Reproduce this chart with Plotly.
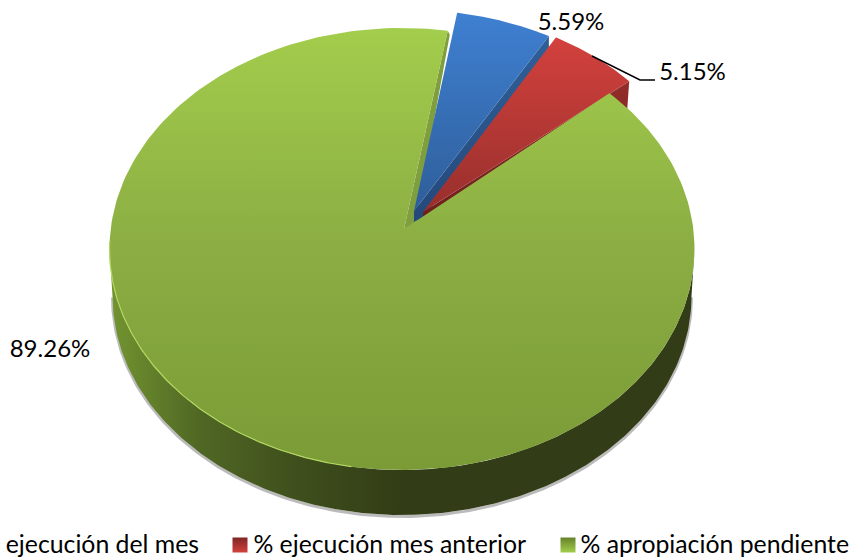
import numpy as np
import plotly.graph_objects as go

categories = ["% ejecución del mes", "% ejecución mes anterior", "% apropiación pendiente"]
shares = [5.59, 5.15, 89.26]
legend_labels = ["ejecución del mes", "% ejecución mes anterior", "% apropiación pendiente"]

# drawing style / projection of the tilted pie (pixels of the 854x559 canvas)
W, H = 854, 559
START = 9.0
RX, RY = 292.5, 221.0
ELLIPSE_CENTRES = [(411, 231), (413, 230), (402, 249)]
APEXES = [(414, 211), (423, 212), (404, 229)]
GREEN_TRIM = 2.5
BLUE_TRIM = 1.0
FONT = "Lato"
FS = 24
LEGEND_FS = 24.8


def arc(c, a0, a1, rx=RX, ry=RY, n=240):
    t = np.radians(np.linspace(a0, a1, n))
    return c[0] + rx * np.sin(t), c[1] - ry * np.cos(t)


def grad(kind, stops):
    # stops are given top-to-bottom / left-to-right in picture space
    if kind == "vertical":
        stops = [[1 - p, col] for p, col in reversed(stops)]
    return dict(type=kind, colorscale=stops)


def poly(fig, x, y, fill=None, gradient=None):
    kw = dict(fillgradient=gradient) if gradient else dict(fillcolor=fill)
    fig.add_trace(go.Scatter(x=list(x), y=list(y), mode="lines", fill="toself",
                             line=dict(width=0, color="rgba(0,0,0,0)"),
                             hoverinfo="skip", showlegend=False, **kw))


def sector(fig, c, apex, a0, a1, stops):
    ax, ay = arc(c, a0, a1)
    poly(fig, np.r_[apex[0], ax, apex[0]], np.r_[apex[1], ay, apex[1]],
         gradient=grad("vertical", stops))
    return ax, ay


edges = START + np.cumsum([0] + [s * 3.6 for s in shares])
fig = go.Figure()

# green cut face
gc, ga = ELLIPSE_CENTRES[2], APEXES[2]
ex, ey = arc(gc, edges[3], edges[3], n=1)
poly(fig, [ex[0], ex[0] + 2, ga[0] + 11, ga[0], ex[0]],
     [ey[0], ey[0] + 4, ga[1] - 5, ga[1], ey[0]], fill="#7F9E3E")

# blue slice: side face, then top
bc, ba = ELLIPSE_CENTRES[0], APEXES[0]
ex, ey = arc(bc, edges[1] - BLUE_TRIM, edges[1] - BLUE_TRIM, n=1)
poly(fig, [ex[0], ex[0], ba[0] + 9, ba[0], ba[0], ex[0]],
     [ey[0], ey[0] + 15, ba[1] + 7, ba[1] + 11, ba[1], ey[0]],
     gradient=grad("vertical", [[0, "#2F6099"], [1, "#24487A"]]))
sector(fig, bc, ba, edges[0], edges[1] - BLUE_TRIM, [[0, "#3F80D2"], [1, "#2E5E99"]])

# red slice: side face, then top
rc, ra = ELLIPSE_CENTRES[1], APEXES[1]
ex, ey = arc(rc, edges[2], edges[2], n=1)
poly(fig, [ex[0], ex[0] - 2, ra[0], ra[0], ex[0]],
     [ey[0], ey[0] + 28, ra[1] + 6, ra[1], ey[0]],
     gradient=grad("vertical", [[0, "#922D2A"], [1, "#6E1F1D"]]))
sector(fig, rc, ra, edges[1], edges[2], [[0, "#D3413D"], [1, "#972F2C"]])

# green wall with soft shadow
bottom_c = (gc[0], gc[1] + 47)
bx, by = arc(bottom_c, 90, 270, rx=RX - 3, ry=RY - 2)
fig.add_trace(go.Scatter(x=bx, y=by + 1.5, mode="lines",
                         line=dict(color="rgba(60,60,60,0.35)", width=3),
                         hoverinfo="skip", showlegend=False))
tx, ty = arc(gc, 90, 270)
poly(fig, np.r_[tx, bx[::-1]], np.r_[ty, by[::-1]],
     gradient=grad("horizontal", [[0, "#739530"], [0.15, "#506824"], [0.32, "#3F4F1C"],
                                  [0.5, "#323C16"], [1, "#323C16"]]))

# green top
sector(fig, gc, ga, edges[2] - GREEN_TRIM, edges[3],
       [[0, "#A3CD4C"], [0.5, "#8BAD43"], [1, "#7A9B36"]])

# light rim on the lower-left edge
lx, ly = arc(gc, 190, 272)
fig.add_trace(go.Scatter(x=lx, y=ly, mode="lines", line=dict(color="#B2D860", width=1.2),
                         hoverinfo="skip", showlegend=False))

# leader line of the red label
fig.add_trace(go.Scatter(x=[592, 640, 655], y=[56, 80, 80], mode="lines",
                         line=dict(color="black", width=1.5),
                         hoverinfo="skip", showlegend=False))

# data labels
label_x = [571, 692.5, 50]
label_y = [24, 74, 351]
fig.add_trace(go.Scatter(x=label_x, y=label_y, mode="text",
                         text=[f"{s:.2f}%" for s in shares],
                         textposition="middle center",
                         textfont=dict(family=FONT, size=FS, color="black"),
                         hoverinfo="skip", showlegend=False))

# legend
legend_x = [199, 526, 849]
legend_y = [547, 547, 547]
fig.add_trace(go.Scatter(x=legend_x, y=legend_y, mode="text", text=legend_labels,
                         textposition="middle left",
                         textfont=dict(family=FONT, size=LEGEND_FS, color="black"),
                         hoverinfo="skip", showlegend=False))
key_x = [240, 568]
key_y = [545, 545]
fig.add_trace(go.Scatter(x=key_x, y=key_y, mode="markers",
                         marker=dict(symbol="square", size=15, color=["#7E2624", "#66822A"],
                                     gradient=dict(type="vertical", color=["#D3413D", "#A3CD4C"])),
                         hoverinfo="skip", showlegend=False))

fig.update_xaxes(range=[0, W], visible=False, fixedrange=True)
fig.update_yaxes(range=[H, 0], visible=False, fixedrange=True)
fig.update_layout(width=W, height=H, autosize=False, margin=dict(l=0, r=0, t=0, b=0),
                  paper_bgcolor="white", plot_bgcolor="white", showlegend=False)
fig.write_html("out.html", config=dict(displayModeBar=False),
               post_script="document.body.style.margin='0';document.body.style.overflow='hidden';")
